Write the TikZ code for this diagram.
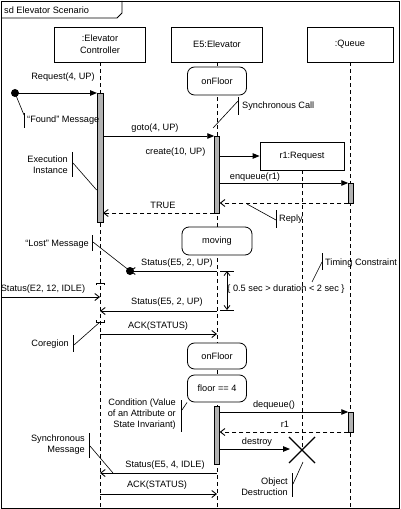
\documentclass[tikz,border=0pt]{standalone}
\usepackage{fontspec}
\setmainfont{Liberation Sans}
\usetikzlibrary{arrows.meta, calc}
\tikzset{
  lifebox/.style={draw, fill=white, line width=0.8bp, minimum width=91bp, minimum height=35bp, align=center, inner sep=1bp},
  statebox/.style={draw, fill=white, line width=0.8bp, rounded corners=7bp, minimum width=59bp, minimum height=28bp},
  actbar/.style={draw, fill=gray!60, line width=0.8bp, minimum width=5.5bp, inner sep=0bp, anchor=north},
  lifeline/.style={dashed, dash pattern=on 4bp off 3bp, line width=0.7bp},
  call/.style={line width=0.9bp, -{Triangle[length=7bp,width=5.5bp]}},
  signal/.style={line width=0.9bp, -{Straight Barb[length=4.5bp,width=7bp]}},
  reply/.style={signal, dash pattern=on 4bp off 3bp},
  notebar/.style={line width=0.9bp},
  notelink/.style={line width=0.6bp},
  lbl/.style={inner sep=0bp},
  notetext/.style={inner sep=0bp, align=right, anchor=east},
}

\begin{document}
\begin{tikzpicture}[x=1bp, y=-1bp, font=\fontsize{9.2bp}{11bp}\selectfont]
    \useasboundingbox (0,0) rectangle (400,509);
    % Posizioni delle lifeline
    \pgfmathsetmacro{\xctrl}{100}
    \pgfmathsetmacro{\xelev}{217}
    \pgfmathsetmacro{\xqueue}{350}
    \pgfmathsetmacro{\xreq}{302}
    \pgfmathsetmacro{\ybot}{508}

    % Cornice
    \draw[line width=0.8bp] (1,1) rectangle (399,\ybot);
    \draw[line width=0.8bp] (1,18) -- (117,18) -- (122,13) -- (122,1);
    \node[lbl, anchor=west] (frameName) at (4,10) {sd Elevator Scenario};

    % Teste delle lifeline
    \node[lifebox] (Ctrl) at (\xctrl,44.5) {:Elevator\\[1bp]Controller};
    \node[lifebox] (Elev) at (\xelev,44.5) {E5:Elevator};
    \node[lifebox, minimum width=86bp] (Queue) at (\xqueue,44.5) {:Queue};
    \coordinate (CtrlEnd) at (\xctrl,\ybot);
    \coordinate (ElevEnd) at (\xelev,\ybot);
    \coordinate (QueueEnd) at (\xqueue,\ybot);
    \draw[lifeline] (Ctrl) -- (CtrlEnd);
    \draw[lifeline] (Elev) -- (ElevEnd);
    \draw[lifeline] (Queue) -- (QueueEnd);

    % Oggetto creato e distrutto
    \coordinate (ReqX) at (\xreq,450);
    \draw[lifeline] (\xreq,156) -- (ReqX);
    \node[lifebox, minimum width=84bp, minimum height=28bp] (Req) at (\xreq,156) {r1:Request};
    \draw[line width=1.1bp] ($(ReqX)+(-13,-13)$) -- ($(ReqX)+(13,13)$);
    \draw[line width=1.1bp] ($(ReqX)+(-13,13)$) -- ($(ReqX)+(13,-13)$);

    % Stati
    \node[statebox] (onFloorA) at (\xelev,81) {onFloor};
    \node[statebox, minimum width=70bp] (moving) at (\xelev,241) {moving};
    \node[statebox, minimum height=26bp] (onFloorB) at (\xelev,356) {onFloor};
    \node[statebox, minimum height=27bp] (floorCond) at (\xelev,388.5) {floor == 4};

    % Attivazioni
    \node[actbar, minimum height=129bp, minimum width=6bp] (ActCtrl) at (\xctrl,93) {};
    \node[actbar, minimum height=77bp] (ActElevA) at (\xelev,136) {};
    \node[actbar, minimum height=20bp] (ActQueueA) at (\xqueue+1,183) {};
    \node[actbar, minimum height=58bp] (ActElevB) at (\xelev,406) {};
    \node[actbar, minimum height=20bp] (ActQueueB) at (\xqueue+1,412) {};

    % Messaggio "Found"
    \coordinate (FoundDot) at (15,93);
    \coordinate (FoundTo) at (\xctrl-3,93);
    \fill (FoundDot) circle (4bp);
    \draw[call] (FoundDot) -- (FoundTo);
    \node[lbl] (lblRequest) at (63,77) {Request(4, UP)};

    % goto
    \coordinate (GotoFrom) at (\xctrl+3,136);
    \coordinate (GotoTo) at (\xelev-2.75,136);
    \draw[call] (GotoFrom) -- (GotoTo);
    \node[lbl] (lblGoto) at (155,128) {goto(4, UP)};

    % create
    \coordinate (CreateFrom) at (\xelev+2.75,156);
    \draw[call] (CreateFrom) -- (Req.west);
    \node[lbl] (lblCreate) at (175.5,152) {create(10, UP)};

    % enqueue e risposta
    \coordinate (EnqFrom) at (\xelev+2.75,183);
    \coordinate (EnqTo) at (\xqueue-1.75,183);
    \draw[call] (EnqFrom) -- (EnqTo);
    \node[lbl] (lblEnqueue) at (255,177) {enqueue(r1)};
    \coordinate (ReplyFrom) at (\xqueue-1.75,203);
    \coordinate (ReplyTo) at (\xelev+2.75,203);
    \draw[reply] (ReplyFrom) -- (ReplyTo);

    % TRUE
    \coordinate (TrueFrom) at (\xelev-2.75,213);
    \coordinate (TrueTo) at (\xctrl+3,213);
    \draw[reply] (TrueFrom) -- (TrueTo);
    \node[lbl] (lblTrue) at (163,205) {TRUE};

    % Messaggio "Lost"
    \coordinate (LostFrom) at (\xelev,271);
    \coordinate (LostDot) at (130,271);
    \fill (LostDot) circle (4bp);
    \draw[signal] (LostFrom) -- (LostDot);
    \node[lbl] (lblLost) at (177,263) {Status(E5, 2, UP)};

    % Messaggi nella coregione
    \coordinate (FrameIn) at (1,297);
    \coordinate (StatusATo) at (\xctrl,297);
    \draw[signal] (FrameIn) -- (StatusATo);
    \node[lbl] (lblStatusA) at (43,289) {Status(E2, 12, IDLE)};
    \coordinate (StatusBFrom) at (\xelev,311);
    \coordinate (StatusBTo) at (\xctrl,311);
    \draw[signal] (StatusBFrom) -- (StatusBTo);
    \node[lbl] (lblStatusB) at (167,302) {Status(E5, 2, UP)};
    \coordinate (CoregTop) at (\xctrl,283);
    \coordinate (CoregBot) at (\xctrl,322);
    \draw[line width=0.8bp] ($(CoregTop)+(-4,2)$) -- ++(0,-2) -- ++(8,0) -- ++(0,2);
    \draw[line width=0.8bp] ($(CoregBot)+(-4,-2)$) -- ++(0,2) -- ++(8,0) -- ++(0,-2);

    % Vincolo di durata
    \coordinate (TimeTop) at (227,271);
    \coordinate (TimeBot) at (227,310);
    \draw[line width=0.8bp] ($(TimeTop)+(-7,0)$) -- ($(TimeTop)+(7,0)$);
    \draw[line width=0.8bp] ($(TimeBot)+(-7,0)$) -- ($(TimeBot)+(7,0)$);
    \draw[line width=0.8bp, {Straight Barb[length=4bp,width=6bp]}-{Straight Barb[length=4bp,width=6bp]}] (TimeTop) -- (TimeBot);
    \node[lbl] (lblDuration) at (286,289) {\{ 0.5 sec > duration < 2 sec \}};

    % ACK
    \coordinate (AckAFrom) at (\xctrl,334);
    \coordinate (AckATo) at (\xelev,334);
    \draw[signal] (AckAFrom) -- (AckATo);
    \node[lbl] (lblAckA) at (158,326) {ACK(STATUS)};

    % dequeue, r1, destroy
    \coordinate (DeqFrom) at (\xelev+2.75,412);
    \coordinate (DeqTo) at (\xqueue-1.75,412);
    \draw[call] (DeqFrom) -- (DeqTo);
    \node[lbl] (lblDequeue) at (274,405) {dequeue()};
    \coordinate (RetFrom) at (\xqueue-1.75,432);
    \coordinate (RetTo) at (\xelev+2.75,432);
    \draw[reply] (RetFrom) -- (RetTo);
    \node[lbl] (lblRet) at (285,424) {r1};
    \coordinate (DestroyFrom) at (\xelev+2.75,449);
    \coordinate (DestroyTo) at (\xreq-12,449);
    \draw[call] (DestroyFrom) -- (DestroyTo);
    \node[lbl] (lblDestroy) at (257,442) {destroy};

    % Status finale e ACK
    \coordinate (StatusCFrom) at (\xelev,473);
    \coordinate (StatusCTo) at (\xctrl,473);
    \draw[signal] (StatusCFrom) -- (StatusCTo);
    \node[lbl] (lblStatusC) at (165,465) {Status(E5, 4, IDLE)};
    \coordinate (AckBFrom) at (\xctrl,494);
    \coordinate (AckBTo) at (\xelev,494);
    \draw[signal] (AckBFrom) -- (AckBTo);
    \node[lbl] (lblAckB) at (157,485) {ACK(STATUS)};

    % Note
    \draw[notebar] (24,113) -- (24,128);
    \draw[notelink] (FoundDot) -- (24,115);
    \node[lbl, anchor=west] (noteFound) at (27,120) {“Found” Message};

    \draw[notebar] (238,97) -- (238,115);
    \draw[notelink] (238,101) -- (213,128);
    \node[lbl, anchor=west] (noteSyncCall) at (242,106) {Synchronous Call};

    \draw[notebar] (72,152) -- (72,177);
    \draw[notelink] (73,163) -- (ActCtrl.west |- 0,190);
    \node[notetext] (noteExec) at (68,165) {Execution\\Instance};

    \draw[notebar] (276,210) -- (276,228);
    \draw[notelink] (276,220) -- (247,204);
    \node[lbl, anchor=west] (noteReply) at (279,219) {Reply};

    \draw[notebar] (92,235) -- (92,251);
    \draw[notelink] (93,242) -- (LostDot);
    \node[notetext] (noteLost) at (89,244) {“Lost” Message};

    \draw[notebar] (322,253) -- (322,270);
    \draw[notelink] (322,262) -- (312,282);
    \node[lbl, anchor=west] (noteTiming) at (325,263) {Timing Constraint};

    \draw[notebar] (73,335) -- (73,352);
    \draw[notelink] (74,345) -- (CoregBot);
    \node[notetext] (noteCoreg) at (69,344) {Coregion};

    \draw[notebar] (181,400) -- (181,432);
    \draw[notelink] (182,410) -- (floorCond.south west);
    \node[notetext] (noteCond) at (176,414) {Condition (Value\\of an Attribute or\\State Invariant)};

    \draw[notebar] (89,433) -- (89,458);
    \draw[notelink] (90,446) -- (113,473);
    \node[notetext] (noteSyncMsg) at (85,445) {Synchronous\\Message};

    \draw[notebar] (292,473) -- (292,497);
    \draw[notelink] (293,484) -- (303,462);
    \node[notetext] (noteDestroy) at (288,487) {Object\\Destruction};
\end{tikzpicture}
\end{document}
